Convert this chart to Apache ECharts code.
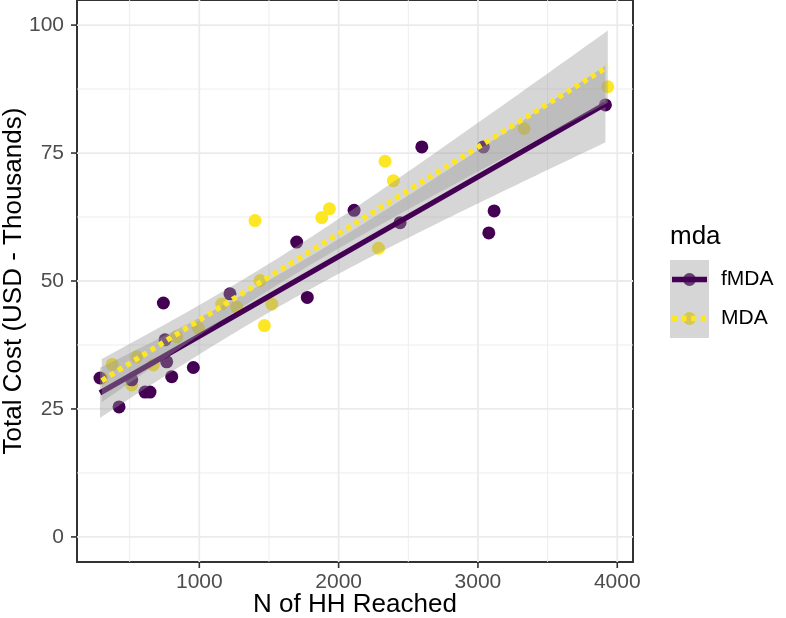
<!DOCTYPE html>
<html><head><meta charset="utf-8">
<script src="https://cdn.jsdelivr.net/npm/echarts@6/dist/echarts.min.js"></script>
<style>html,body{margin:0;padding:0;background:#fff}#c{width:786px;height:618px}</style>
</head><body><div id="c"></div>
<script>
// ---- data ----
const fmdaX = [287, 424, 610, 646, 742, 802, 957, 766, 754, 1220, 515, 1699, 1775, 2111, 2441, 2597, 3039, 3116, 3078, 3915];
const fmdaY = [31.05, 25.4, 28.3, 28.3, 45.7, 31.3, 33.1, 34.2, 38.5, 47.5, 30.7, 57.6, 46.8, 63.8, 61.4, 76.2, 76.2, 63.7, 59.4, 84.4];
const mdaX = [300, 375, 551, 515, 670, 838, 993, 1161, 1268, 1467, 1520, 1400, 1436, 1879, 1934, 2286, 2333, 2393, 3331, 3932];
const mdaY = [31.0, 33.7, 35.2, 29.7, 33.6, 39.1, 40.8, 45.5, 44.9, 41.3, 45.5, 61.8, 50.1, 62.4, 64.1, 56.4, 73.4, 69.6, 79.8, 87.95];
const groupNames = ['fMDA', 'MDA'];
const legendTitle = 'mda';
const xTitle = 'N of HH Reached';
const yTitle = 'Total Cost (USD - Thousands)';
const xTicks = [1000, 2000, 3000, 4000];
const xTickLabels = ['1000', '2000', '3000', '4000'];
const yTicks = [0, 25, 50, 75, 100];
const yTickLabels = ['0', '25', '50', '75', '100'];
const xMinor = [500, 1500, 2500, 3500];
const yMinor = [12.5, 37.5, 62.5, 87.5];

// axis limits (ggplot expanded range)
const X_MIN = 122, X_MAX = 4113;
const Y_MIN = -4.9, Y_MAX = 104.9;

const PURPLE = '#440154', YELLOW = '#FDE725';
const RIBBON = 'rgba(153,153,153,0.4)';
const FONT = '"Liberation Sans", Arial, Helvetica, sans-serif';
const LW = 5.4;

// linear model fit with 95% confidence band (like geom_smooth(method = "lm"))
function tq975(df) {
  const z = 1.959964;
  return z + (z*z*z + z) / (4*df) + (5*Math.pow(z,5) + 16*z*z*z + 3*z) / (96*df*df)
    + (3*Math.pow(z,7) + 19*Math.pow(z,5) + 17*z*z*z - 15*z) / (384*df*df*df);
}
function lmBand(xs, ys, nOut) {
  const n = xs.length;
  const mx = xs.reduce((a, b) => a + b, 0) / n;
  const my = ys.reduce((a, b) => a + b, 0) / n;
  let sxx = 0, sxy = 0;
  for (let i = 0; i < n; i++) { sxx += (xs[i]-mx)*(xs[i]-mx); sxy += (xs[i]-mx)*(ys[i]-my); }
  const b = sxy / sxx, a = my - b * mx;
  let ssr = 0;
  for (let i = 0; i < n; i++) { const r = ys[i] - (a + b*xs[i]); ssr += r*r; }
  const s = Math.sqrt(ssr / (n - 2));
  const t = tq975(n - 2);
  const lo = Math.min(...xs), hi = Math.max(...xs);
  const out = [];
  for (let i = 0; i < nOut; i++) {
    const x = lo + (hi - lo) * i / (nOut - 1);
    const yh = a + b * x;
    const h = t * s * Math.sqrt(1/n + (x-mx)*(x-mx)/sxx);
    out.push([x, yh, yh - h, yh + h]);
  }
  return out;
}
const fBand = lmBand(fmdaX, fmdaY, 80);
const mBand = lmBand(mdaX, mdaY, 80);

function pairs(xs, ys) { return xs.map((x, i) => [x, ys[i]]); }

function ribbonSeries(band, z) {
  return {
    type: 'custom', z: z, silent: true,
    data: band,
    encode: { x: 0, y: [1, 2, 3] },
    renderItem: function (params, api) {
      if (params.dataIndex !== 0) return null;
      const pts = [];
      band.forEach(d => pts.push(api.coord([d[0], d[3]])));
      for (let i = band.length - 1; i >= 0; i--) pts.push(api.coord([band[i][0], band[i][2]]));
      return { type: 'polygon', shape: { points: pts }, style: { fill: RIBBON } };
    }
  };
}
function lineSeries(band, color, dash, z) {
  return {
    type: 'line', z: z, silent: true, showSymbol: false, symbol: 'none',
    data: [[band[0][0], band[0][1]], [band[band.length-1][0], band[band.length-1][1]]],
    lineStyle: { color: color, width: LW, type: dash, cap: 'butt' }
  };
}
function gridSeries(values, vertical, width) {
  return {
    type: 'custom', z: 1, silent: true,
    data: values.map(v => vertical ? [v, 0] : [2000, v]),
    renderItem: function (params, api) {
      const v = api.value(vertical ? 0 : 1);
      const p1 = vertical ? api.coord([v, Y_MIN]) : api.coord([X_MIN, v]);
      const p2 = vertical ? api.coord([v, Y_MAX]) : api.coord([X_MAX, v]);
      return { type: 'line', shape: { x1: p1[0], y1: p1[1], x2: p2[0], y2: p2[1] },
        style: { stroke: '#EBEBEB', lineWidth: width } };
    }
  };
}
function tickSeries(values, vertical) {
  return {
    type: 'custom', z: 8, silent: true, clip: false,
    data: values.map(v => vertical ? [v, 0] : [2000, v]),
    renderItem: function (params, api) {
      const v = api.value(vertical ? 0 : 1);
      const p = vertical ? api.coord([v, Y_MIN]) : api.coord([X_MIN, v]);
      const shape = vertical ? { x1: p[0], y1: p[1], x2: p[0], y2: p[1] + 6 }
                             : { x1: p[0], y1: p[1], x2: p[0] - 6, y2: p[1] };
      return { type: 'line', shape: shape, style: { stroke: '#333333', lineWidth: 1.6 } };
    }
  };
}

const chart = echarts.init(document.getElementById('c'), null, { renderer: 'canvas' });
chart.setOption({
  animation: false,
  backgroundColor: '#ffffff',
  textStyle: { fontFamily: FONT },
  grid: { left: 77, right: 153, top: 0, bottom: 56, show: true, borderColor: '#333333', borderWidth: 2, backgroundColor: 'transparent', containLabel: false, outerBoundsMode: 'none' },
  xAxis: {
    type: 'value', min: X_MIN, max: X_MAX,
    name: xTitle, nameLocation: 'middle', nameGap: 30, nameMoveOverlap: false,
    nameTextStyle: { fontSize: 26, color: '#000', fontFamily: FONT },
    splitLine: { show: false }, axisLine: { show: false }, axisTick: { show: false },
    axisLabel: { customValues: xTicks, formatter: v => xTickLabels[xTicks.indexOf(v)], color: '#4D4D4D', fontSize: 21, margin: 10, fontFamily: FONT }
  },
  yAxis: {
    type: 'value', min: Y_MIN, max: Y_MAX,
    name: yTitle, nameLocation: 'middle', nameGap: 50, nameRotate: 90, nameMoveOverlap: false,
    nameTextStyle: { fontSize: 26, color: '#000', fontFamily: FONT },
    splitLine: { show: false }, axisLine: { show: false }, axisTick: { show: false },
    axisLabel: { customValues: yTicks, formatter: v => yTickLabels[yTicks.indexOf(v)], color: '#4D4D4D', fontSize: 21, margin: 13, fontFamily: FONT }
  },
  series: [
    gridSeries(xMinor, true, 0.9),
    gridSeries(yMinor, false, 0.9),
    gridSeries(xTicks, true, 1.8),
    gridSeries(yTicks, false, 1.8),
    tickSeries(xTicks, true),
    tickSeries(yTicks, false),
    { type: 'scatter', name: groupNames[1], z: 2, symbolSize: 13, data: pairs(mdaX, mdaY), itemStyle: { color: YELLOW, opacity: 1 } },
    { type: 'scatter', name: groupNames[0], z: 2, symbolSize: 13, data: pairs(fmdaX, fmdaY), itemStyle: { color: PURPLE, opacity: 1 } },
    ribbonSeries(fBand, 3),
    lineSeries(fBand, PURPLE, 'solid', 4),
    ribbonSeries(mBand, 5),
    lineSeries(mBand, YELLOW, [5, 4.6], 6)
  ],
  graphic: [
    { type: 'text', left: 670, top: 224, style: { text: legendTitle, font: '26px ' + FONT, fill: '#000' } },
    // key 1
    { type: 'circle', shape: { cx: 689.5, cy: 279.5, r: 6.5 }, style: { fill: PURPLE } },
    { type: 'rect', shape: { x: 670, y: 260, width: 39, height: 39 }, style: { fill: RIBBON } },
    { type: 'line', shape: { x1: 672, y1: 279.5, x2: 707, y2: 279.5 }, style: { stroke: PURPLE, lineWidth: LW } },
    { type: 'text', x: 721, y: 279.5, style: { text: groupNames[0], font: '21px ' + FONT, fill: '#000', verticalAlign: 'middle' } },
    // key 2
    { type: 'circle', shape: { cx: 689.5, cy: 318.5, r: 6.5 }, style: { fill: YELLOW } },
    { type: 'rect', shape: { x: 670, y: 299, width: 39, height: 39 }, style: { fill: RIBBON } },
    { type: 'line', shape: { x1: 672, y1: 318.5, x2: 707, y2: 318.5 }, style: { stroke: YELLOW, lineWidth: LW, lineDash: [5, 4.6] } },
    { type: 'text', x: 721, y: 318.5, style: { text: groupNames[1], font: '21px ' + FONT, fill: '#000', verticalAlign: 'middle' } }
  ]
});
</script>
</body></html>
